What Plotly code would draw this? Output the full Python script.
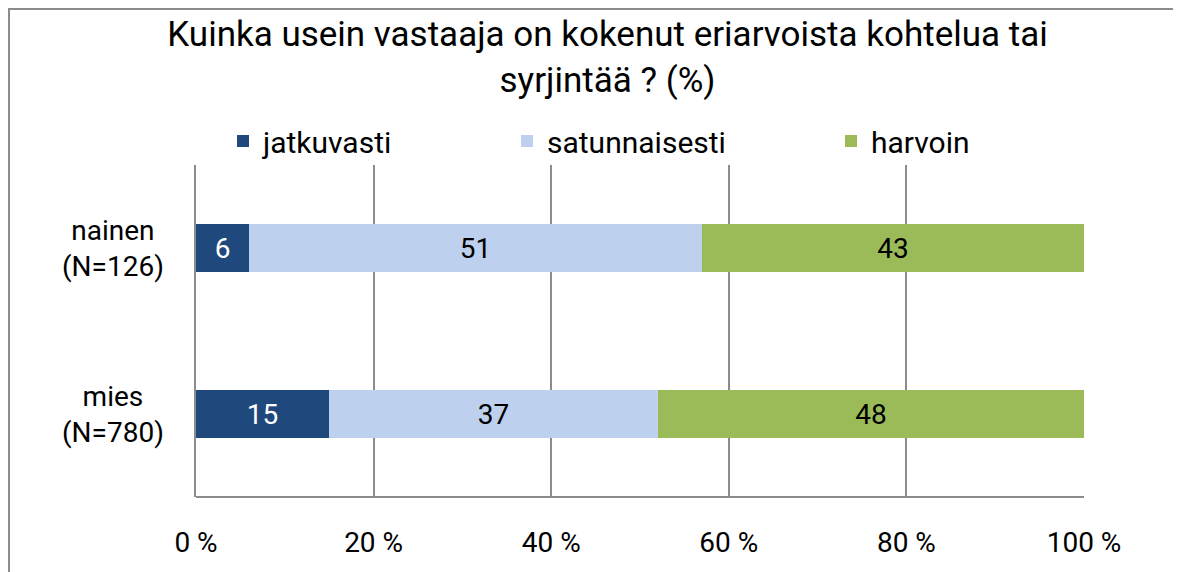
import plotly.graph_objects as go

categories = ["nainen<br>(N=126)", "mies<br>(N=780)"]
series_names = ["jatkuvasti", "satunnaisesti", "harvoin"]
jatkuvasti = [6, 15]
satunnaisesti = [51, 37]
harvoin = [43, 48]
tick_vals = [0, 20, 40, 60, 80, 100]
tick_text = ["0 %", "20 %", "40 %", "60 %", "80 %", "100 %"]
title_text = "Kuinka usein vastaaja on kokenut eriarvoista kohtelua tai<br>syrjintää ? (%)"

FONT = "Roboto, sans-serif"
colors = ["#1F497D", "#BDD0EE", "#9BBB59"]
text_colors = ["white", "black", "black"]
legend_ids = ["legend", "legend2", "legend3"]
legend_px = [215, 499, 823]

W, H = 1181, 572
L, R, T, B = 188, 105, 157, 83
PW, PH = W - L - R, H - T - B

fig = go.Figure()
for name, vals, col, tc, lg in zip(series_names, [jatkuvasti, satunnaisesti, harvoin],
                                   colors, text_colors, legend_ids):
    fig.add_trace(go.Bar(
        y=categories, x=vals, name=name, orientation="h", legend=lg,
        marker=dict(color=col, line=dict(width=0)),
        text=[str(v) for v in vals], textposition="inside", insidetextanchor="middle",
        textfont=dict(family=FONT, size=28, color=tc),
        width=0.29,
    ))

for cat in categories:
    fig.add_annotation(x=0, y=cat, xref="paper", yref="y", text=cat, showarrow=False,
                       xanchor="right", xshift=-30, align="center",
                       font=dict(family=FONT, size=28, color="black"))

legend_common = dict(orientation="h", xanchor="left", yanchor="middle",
                     y=(H - B - 133) / PH, bgcolor="rgba(0,0,0,0)",
                     font=dict(family=FONT, size=30, color="black"), itemclick=False)

fig.update_layout(
    width=W, height=H,
    barmode="stack",
    paper_bgcolor="white", plot_bgcolor="white",
    margin=dict(l=L, r=R, t=T, b=B, autoexpand=False),
    title=dict(text=title_text, x=599.5 / W, xanchor="center", yref="container",
               y=1 - 38 / H, yanchor="top",
               font=dict(family=FONT, size=35, color="black")),
    showlegend=True,
    bargap=0,
)
for lg, px in zip(legend_ids, legend_px):
    fig.update_layout({lg: dict(legend_common, x=(px - L) / PW)})

fig.update_xaxes(range=[0, 100], tickvals=tick_vals, ticktext=tick_text,
                 showgrid=True, gridcolor="#8C8C8C", gridwidth=1.5,
                 zeroline=False, showline=False, ticks="", ticklabelstandoff=26,
                 tickfont=dict(family=FONT, size=28, color="black"), fixedrange=True)
fig.update_yaxes(categoryorder="array", categoryarray=categories[::-1], showticklabels=False,
                 showgrid=False, showline=True, linecolor="#8C8C8C", linewidth=2, zeroline=False,
                 fixedrange=True)
# bottom axis line
fig.add_shape(type="line", xref="paper", yref="paper", x0=0, x1=1, y0=0, y1=0,
              line=dict(color="#8C8C8C", width=2))
# chart border
fig.add_shape(type="rect", xref="paper", yref="paper",
              x0=(1 - L) / PW, x1=(1168 - L) / PW,
              y0=(H - B - 575) / PH, y1=(H - B - 1) / PH,
              line=dict(color="#8C8C8C", width=2), layer="below")

fig.write_html("out.html")
